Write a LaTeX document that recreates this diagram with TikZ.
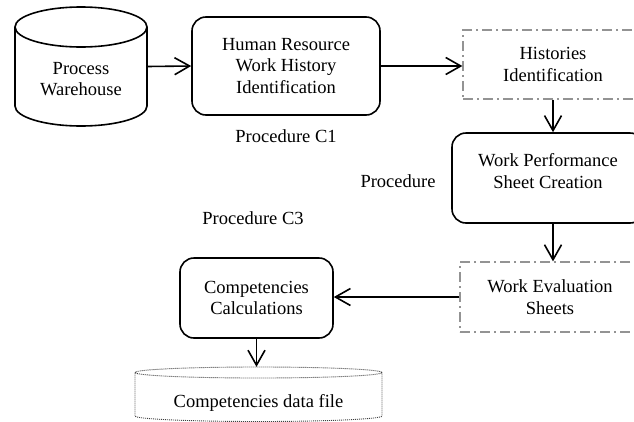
\documentclass[tikz,border=0pt]{standalone}
\usepackage{fontspec}
\setmainfont{Liberation Serif}
\usetikzlibrary{arrows.meta,calc}
\tikzset{
  txt/.style={font=\fontsize{18.5}{21.5}\selectfont, align=center, inner sep=0pt},
  procbox/.style={draw, line width=1.6pt, rounded corners=14pt, inner sep=0pt},
  dashbox/.style={draw=gray!85, line width=1.3pt, dash pattern=on 10pt off 4pt on 2pt off 4pt, inner sep=0pt},
  shapebox/.style={inner sep=0pt},
  arr/.style={line width=1.6pt, -{Straight Barb[length=15pt,width=17pt,line width=1.6pt]}},
  cyl/.style={line width=1.6pt},
  dotcyl/.style={line width=0.9pt, draw=black!75, dash pattern=on 1pt off 1pt}
}
\begin{document}
\begin{tikzpicture}[x=1pt,y=-1pt]
\path[use as bounding box, clip] (0,0) rectangle (634,421);
\fill[white] (0,0) rectangle (634,421);

% Process Warehouse cylinder
\node[shapebox, minimum width=132pt, minimum height=119pt] (pw) at (81,66.5) {};
\draw[cyl] (81,27) ellipse [x radius=66pt, y radius=20pt];
\draw[cyl] (15,27) -- (15,106) arc[start angle=180, end angle=360, x radius=66pt, y radius=20pt] -- (147,27);
\node[txt] (pwt) at (81,79) {Process\\Warehouse};

% Human resource box
\node[procbox, txt, minimum width=188pt, minimum height=98pt] (hr) at (286,66) {Human Resource\\Work History\\Identification};
\node[txt] (c1) at (286,136) {Procedure C1};

% Histories identification
\node[dashbox, txt, minimum width=180pt, minimum height=69pt] (hist) at (553,64.5) {Histories\\Identification};

% Work performance sheet creation
\node[procbox, minimum width=192pt, minimum height=90pt] (wp) at (548,178) {};
\node[txt] (wpt) at (548,171) {Work Performance\\Sheet Creation};
\node[txt] (proc) at (398,181) {Procedure};

\node[txt] (c3) at (253,218) {Procedure C3};

% Work evaluation sheets
\node[dashbox, txt, minimum width=180pt, minimum height=70pt] (we) at (550,297) {Work Evaluation\\Sheets};

% Competencies calculations
\node[procbox, txt, minimum width=153pt, minimum height=80pt] (comp) at (256.5,298) {Competencies\\Calculations};

% Competencies data file (dotted cylinder)
\node[shapebox, minimum width=247pt, minimum height=60pt] (db) at (258.5,397) {};
\draw[dotcyl] (258.5,372.5) ellipse [x radius=123.5pt, y radius=5.5pt];
\draw[dotcyl] (135,372.5) -- (135,416) arc[start angle=180, end angle=360, x radius=123.5pt, y radius=5.5pt] -- (382,372.5);
\node[txt] (dbt) at (258.5,403) {Competencies data file};

% connectors
\draw[arr] (pw.east) -- (hr.west);
\draw[arr] (hr.east) -- (hr.east -| hist.west);
\draw[arr] (hist.south) -- (hist.south |- wp.north);
\draw[arr] (wp.south -| hist.south) -- (hist.south |- we.north);
\draw[arr] (we.west) -- (we.west -| comp.east);
\draw[arr] (comp.south) -- (comp.south |- db.north);
\end{tikzpicture}
\end{document}
